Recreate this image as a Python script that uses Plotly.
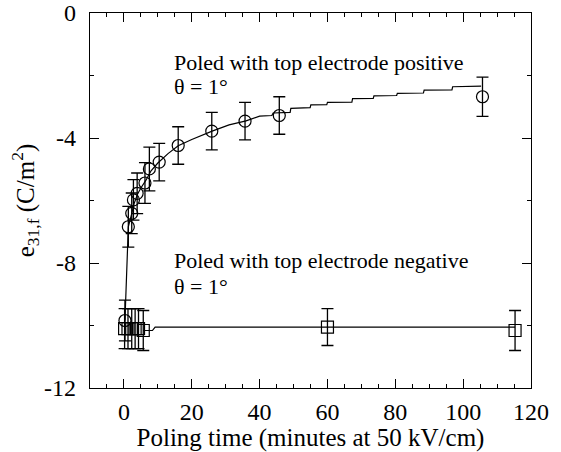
import plotly.graph_objects as go

# Poled with top electrode positive (circles)
pos_time = [0.3, 1.3, 2.3, 2.8, 3.9, 6.2, 7.5, 10.4, 16.0, 25.9, 35.7, 45.8, 105.7]
pos_e31 = [-9.84, -6.84, -6.41, -5.98, -5.77, -5.44, -4.99, -4.77, -4.24, -3.78, -3.46, -3.28, -2.68]
pos_err = [0.65, 0.65, 0.65, 0.65, 0.65, 0.65, 0.7, 0.6, 0.6, 0.6, 0.6, 0.6, 0.63]

# fitted curve (positive)
fit_pos_time = [0.3, 1.3, 2.3, 3.0, 4.0, 5.0, 6.5, 8.0, 10.0, 13.0, 16.0, 20.0, 26.0, 31.0, 36.0,
                40.0, 43.6, 44.0, 49.0, 49.2, 54.9, 55.1, 59.8, 60.0, 67.2, 67.4, 73.5, 73.7,
                80.4, 80.6, 88.3, 88.5, 96.7, 96.9, 105.3]
fit_pos_e31 = [-9.84, -6.84, -6.42, -6.1, -5.8, -5.6, -5.35, -5.05, -4.8, -4.5, -4.25, -4.05, -3.78,
               -3.58, -3.45, -3.3, -3.28, -3.2, -3.18, -3.05, -3.03, -2.94, -2.93, -2.86, -2.85,
               -2.74, -2.73, -2.65, -2.64, -2.57, -2.56, -2.47, -2.46, -2.36, -2.34]

# Poled with top electrode negative (squares)
neg_time = [0.2, 1.2, 2.3, 3.3, 4.3, 5.7, 60.0, 115.3]
neg_e31 = [-10.1, -10.1, -10.1, -10.1, -10.1, -10.16, -10.05, -10.16]
neg_err = [0.64, 0.64, 0.64, 0.64, 0.64, 0.64, 0.59, 0.64]

fit_neg_time = [5.7, 8.4, 9.2, 60.0, 115.3]
fit_neg_e31 = [-10.16, -10.16, -10.05, -10.05, -10.05]

x_ticks = [0, 20, 40, 60, 80, 100, 120]
y_ticks = [-12, -8, -4, 0]
y_tick_text = ["-12", "-8", "-4", "0"]

FONT = "Liberation Serif"

fig = go.Figure()
fig.add_trace(go.Scatter(x=fit_pos_time, y=fit_pos_e31, mode="lines",
                         line=dict(color="black", width=1.2), showlegend=False))
fig.add_trace(go.Scatter(x=fit_neg_time, y=fit_neg_e31, mode="lines",
                         line=dict(color="black", width=1.2), showlegend=False))
fig.add_trace(go.Scatter(x=pos_time, y=pos_e31, mode="markers",
                         marker=dict(symbol="circle-open", size=12, color="black",
                                     line=dict(width=1.2, color="black")),
                         error_y=dict(type="data", array=pos_err, color="black",
                                      thickness=1.3, width=6),
                         showlegend=False))
fig.add_trace(go.Scatter(x=neg_time, y=neg_e31, mode="markers",
                         marker=dict(symbol="square-open", size=12, color="black",
                                     line=dict(width=1.2, color="black")),
                         error_y=dict(type="data", array=neg_err, color="black",
                                      thickness=1.3, width=6),
                         showlegend=False))

ann_font = dict(family=FONT, size=22, color="black")
for txt, yv in [("Poled with top electrode positive", -1.58), ("θ = 1°", -2.34),
                ("Poled with top electrode negative", -7.93), ("θ = 1°", -8.74)]:
    fig.add_annotation(x=14.4, y=yv, xref="x", yref="y", text=txt, showarrow=False,
                       xanchor="left", yanchor="middle", font=ann_font, borderpad=0)

axis_common = dict(showline=True, linecolor="black", linewidth=1.3, mirror="ticks",
                   ticks="inside", ticklen=9, tickwidth=1.2, tickcolor="black",
                   showgrid=False, zeroline=False, automargin=False,
                   tickfont=dict(family=FONT, size=24, color="black"))

fig.update_xaxes(range=[-10, 120], tickmode="array", tickvals=x_ticks, ticklabelstandoff=2,
                 minor=dict(dtick=5, ticks="inside", ticklen=4, tickcolor="black", tickwidth=1),
                 title=dict(text="Poling time (minutes at 50 kV/cm)",
                            font=dict(family=FONT, size=25, color="black"), standoff=0),
                 **axis_common)
fig.update_yaxes(range=[-12, 0], tickmode="array", tickvals=y_ticks, ticktext=y_tick_text,
                 ticklabelstandoff=8,
                 minor=dict(dtick=2, ticks="inside", ticklen=4, tickcolor="black", tickwidth=1),
                 title=dict(text="e<sub>31,f</sub> (C/m<sup>2</sup>)",
                            font=dict(family=FONT, size=25, color="black"), standoff=2),
                 **axis_common)

fig.update_layout(width=561, height=452, margin=dict(l=90, r=30, t=13, b=64),
                  paper_bgcolor="white", plot_bgcolor="white",
                  font=dict(family=FONT, color="black"))

# remove the default 8 px page-body margin so the figure sits at the window's corner
fig.write_html("out.html", config={"displayModeBar": False},
               post_script="document.body.style.margin='0';")
